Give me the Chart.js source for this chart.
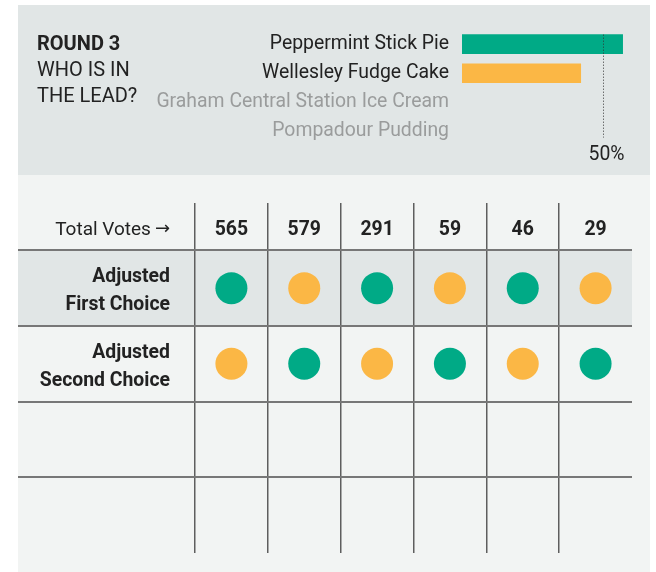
<!DOCTYPE html>
<html>
<head>
<meta charset="utf-8">
<script src="https://cdn.jsdelivr.net/npm/chart.js@4/dist/chart.umd.min.js"></script>
<style>
  html, body { margin: 0; padding: 0; background: #fff; }
  body { width: 656px; height: 572px; position: relative; overflow: hidden; font-family: Roboto, sans-serif; }
  #top { position: absolute; left: 18px; top: 5px; width: 632px; height: 170px; background: #e1e6e6; }
  #bottom { position: absolute; left: 18px; top: 175px; width: 632px; height: 397px; background: #f2f4f3; }
  #title { position: absolute; left: 19px; top: 25px; font-size: 20px; line-height: 26px; color: #222; z-index: 2; }
  #title b { font-weight: 700; }
  canvas { position: absolute; left: 0; top: 0; }
</style>
</head>
<body>
<div id="top">
  <div id="title"><b>ROUND 3</b><br>WHO IS IN<br>THE LEAD?</div>
  <canvas id="leadChart" width="632" height="170"></canvas>
</div>
<div id="bottom">
  <canvas id="voteChart" width="632" height="397"></canvas>
</div>
<script>
// data
const candidates = ["Peppermint Stick Pie", "Wellesley Fudge Cake", "Graham Central Station Ice Cream", "Pompadour Pudding"];
const leadShare = [57.1, 42.2, null, null];   // percent of votes this round
const candidateColors = ["#00aa86", "#fbb745", "#9a9c9c", "#9a9c9c"];
const activeCandidates = 2;

const totalVotes = [565, 579, 291, 59, 46, 29];
const firstChoice = [0, 1, 0, 1, 0, 1];   // index into candidates
const secondChoice = [1, 0, 1, 0, 1, 0];
const rowLabels = [["Adjusted", "First Choice"], ["Adjusted", "Second Choice"]];
const headerLabel = "Total Votes";

const FONT = "Roboto, sans-serif";

// ------------------------------
// top: who is in the lead
// ------------------------------
const halfLine = {
  id: "halfLine",
  afterDatasetsDraw(chart) {
    const ctx = chart.ctx;
    const x = Math.round(chart.scales.x.getPixelForValue(50)) + 0.5;
    const y0 = chart.scales.y.getPixelForValue(0) - 9.5;
    const y1 = chart.scales.y.getPixelForValue(3) + 6;
    ctx.save();
    ctx.strokeStyle = "#333";
    ctx.lineWidth = 1;
    ctx.setLineDash([1, 2]);
    ctx.beginPath();
    ctx.moveTo(x, y0);
    ctx.lineTo(x, y1);
    ctx.stroke();
    ctx.setLineDash([]);
    ctx.fillStyle = "#222";
    ctx.font = "19.4px " + FONT;
    ctx.textAlign = "center";
    ctx.textBaseline = "alphabetic";
    ctx.fillText("50%", x + 3, y1 + 22.5);
    ctx.restore();
  }
};

new Chart(document.getElementById("leadChart"), {
  type: "bar",
  data: {
    labels: candidates,
    datasets: [{
      data: leadShare,
      backgroundColor: candidateColors,
      borderWidth: 0,
      barThickness: 19
    }]
  },
  options: {
    indexAxis: "y",
    responsive: false,
    animation: false,
    layout: { autoPadding: false, padding: { left: 0, top: 23.7, bottom: 29, right: 19.2 } },
    plugins: { legend: { display: false }, tooltip: { enabled: false } },
    scales: {
      x: { display: false, min: 0, max: 60 },
      y: {
        afterFit(scale) { scale.width = 444; },
        grid: { display: false, drawTicks: false },
        border: { display: false },
        ticks: {
          padding: 13,
          font: { family: FONT, size: 19.4 },
          color: c => c.index < activeCandidates ? "#222" : "#9a9c9c"
        }
      }
    }
  },
  plugins: [halfLine]
});

// ------------------------------
// bottom: votes table
// ------------------------------
const points = [];
totalVotes.forEach((v, i) => {
  points.push({ x: i + 0.5, y: 0.5, c: candidateColors[firstChoice[i]] });
  points.push({ x: i + 0.5, y: 1.5, c: candidateColors[secondChoice[i]] });
});

const tableDecor = {
  id: "tableDecor",
  beforeDraw(chart) {
    const { ctx, chartArea } = chart;
    const y = chart.scales.y;
    ctx.save();
    ctx.fillStyle = "#e1e6e6";
    ctx.fillRect(chartArea.left, y.getPixelForValue(0), chartArea.right - chartArea.left, y.getPixelForValue(1) - y.getPixelForValue(0));
    ctx.restore();
  },
  afterDraw(chart) {
    const ctx = chart.ctx;
    const xs = chart.scales.x, ys = chart.scales.y;
    const labelRight = xs.getPixelForValue(0) - 25;
    const headBase = (ys.getPixelForValue(ys.min) + ys.getPixelForValue(0)) / 2 + 8.3;
    ctx.save();
    ctx.fillStyle = "#222";
    ctx.textBaseline = "alphabetic";
    // arrow drawn in a font whose arrow is full size
    ctx.font = "18px 'DejaVu Sans'";
    ctx.textAlign = "right";
    ctx.fillText("\u2192", labelRight, headBase - 0.5);
    const arrowW = ctx.measureText("\u2192").width;
    ctx.font = "19px " + FONT;
    ctx.fillText(headerLabel, labelRight - arrowW - 4, headBase);
    ctx.font = "bold 19.4px " + FONT;
    ctx.textAlign = "center";
    totalVotes.forEach((v, i) => ctx.fillText(String(v), xs.getPixelForValue(i + 0.5), headBase));
    ctx.textAlign = "right";
    rowLabels.forEach((lines, r) => {
      const cy = ys.getPixelForValue(r + 0.5);
      ctx.fillText(lines[0], labelRight, cy - 6);
      ctx.fillText(lines[1], labelRight, cy + 22);
    });
    ctx.restore();
  }
};

new Chart(document.getElementById("voteChart"), {
  type: "scatter",
  data: {
    datasets: [{
      data: points,
      pointRadius: 16,
      pointHoverRadius: 16,
      borderWidth: 0,
      pointBackgroundColor: points.map(p => p.c)
    }]
  },
  options: {
    responsive: false,
    animation: false,
    layout: { autoPadding: false, padding: { left: 0, top: 28, bottom: 19, right: 18 } },
    plugins: { legend: { display: false }, tooltip: { enabled: false } },
    scales: {
      x: {
        type: "linear",
        min: -2.43,
        max: 6,
        afterBuildTicks(scale) { scale.ticks = [0, 1, 2, 3, 4, 5].map(v => ({ value: v })); },
        afterFit(scale) { scale.height = 0; },
        ticks: { display: false },
        border: { display: false },
        grid: { drawTicks: false, color: "#5e5e5e", lineWidth: 1.5 }
      },
      y: {
        type: "linear",
        reverse: true,
        min: -0.625,
        max: 4,
        afterBuildTicks(scale) { scale.ticks = [0, 1, 2, 3].map(v => ({ value: v })); },
        afterFit(scale) { scale.width = 0; },
        ticks: { display: false },
        border: { display: false },
        grid: { drawTicks: false, color: "#777", lineWidth: 2 }
      }
    }
  },
  plugins: [tableDecor]
});
</script>
</body>
</html>
